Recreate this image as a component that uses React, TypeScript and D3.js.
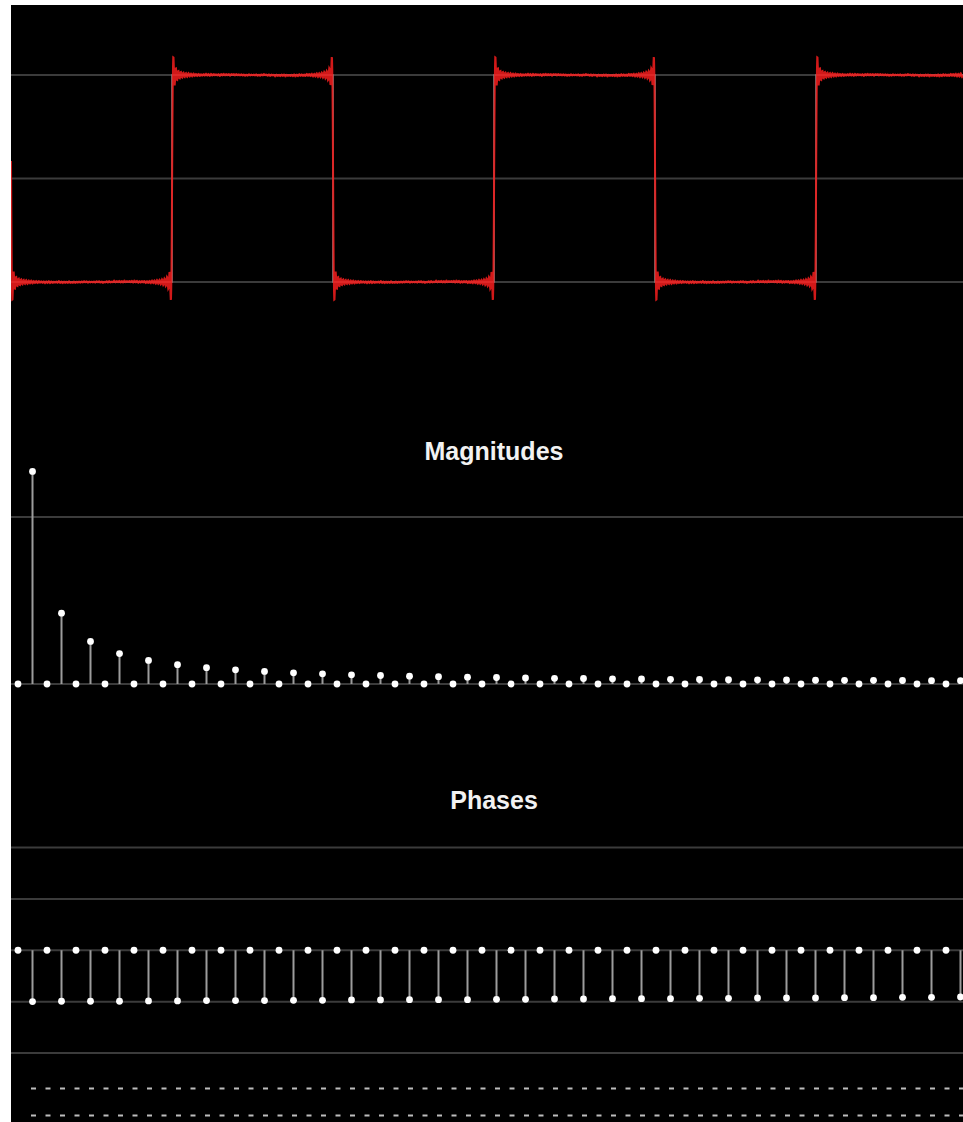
import { useEffect, useRef } from "react";
import * as d3 from "d3";

// harmonic magnitudes (index 0 = DC); the plot runs past the right edge
const magnitudes = [
  0, 1.273, 0, 0.424, 0, 0.255, 0, 0.182, 0, 0.141, 0, 0.116, 0, 0.098, 0, 0.085,
  0, 0.075, 0, 0.067, 0, 0.061, 0, 0.055, 0, 0.051, 0, 0.047, 0, 0.044, 0, 0.041,
  0, 0.039, 0, 0.036, 0, 0.034, 0, 0.033, 0, 0.031, 0, 0.03, 0, 0.028, 0, 0.027,
  0, 0.026, 0, 0.025, 0, 0.024, 0, 0.023, 0, 0.022, 0, 0.022, 0, 0.021, 0, 0.02,
  0, 0.02, 0, 0.019, 0, 0.018, 0, 0.018, 0, 0.017, 0, 0.017, 0, 0.017, 0, 0.016,
  0, 0.016, 0, 0.015, 0, 0.015, 0, 0.015, 0, 0.014, 0, 0.014, 0, 0.014, 0, 0.013,
  0, 0.013, 0, 0.013, 0, 0.013, 0, 0.012, 0, 0.012, 0, 0.012, 0, 0.012, 0, 0.011,
  0, 0.011, 0, 0.011, 0, 0.011, 0, 0.011, 0, 0.011, 0, 0.01, 0, 0.01, 0, 0.01,
];

// harmonic phases (radians)
const phases = [
  0, -1.57, 0, -1.56, 0, -1.56, 0, -1.56, 0, -1.55, 0, -1.55, 0, -1.54, 0, -1.54,
  0, -1.54, 0, -1.53, 0, -1.53, 0, -1.52, 0, -1.52, 0, -1.51, 0, -1.51, 0, -1.51,
  0, -1.5, 0, -1.5, 0, -1.49, 0, -1.49, 0, -1.48, 0, -1.48, 0, -1.48, 0, -1.47,
  0, -1.47, 0, -1.46, 0, -1.46, 0, -1.46, 0, -1.45, 0, -1.45, 0, -1.44, 0, -1.44,
  0, -1.43, 0, -1.43, 0, -1.43, 0, -1.42, 0, -1.42, 0, -1.41, 0, -1.41, 0, -1.4,
  0, -1.4, 0, -1.4, 0, -1.39, 0, -1.39, 0, -1.38, 0, -1.38, 0, -1.38, 0, -1.37,
  0, -1.37, 0, -1.36, 0, -1.36, 0, -1.35, 0, -1.35, 0, -1.35, 0, -1.34, 0, -1.34,
  0, -1.33, 0, -1.33, 0, -1.33, 0, -1.32, 0, -1.32, 0, -1.31, 0, -1.31, 0, -1.3,
];

// input square wave, one level per half period
const squareLevels = [-1, 1, -1, 1, -1, 1, -1];

const signalTicks = [-1, 0, 1];
const magnitudeTicks = [0, 1];
const phaseTicks = [-Math.PI, -Math.PI / 2, 0, Math.PI / 2, Math.PI];
const dashRows = [0, 1];

const width = 952;
const height = 1117;

export default function App() {
  const ref = useRef<SVGSVGElement | null>(null);

  useEffect(() => {
    if (!ref.current) return;
    const svg = d3.select(ref.current);
    svg.selectAll("*").remove();

    const idx = d3.range(magnitudes.length);

    // scales
    const tScale = d3.scaleLinear([0, 1], [0, 322]); // periods -> px
    const sigY = d3.scaleLinear([-1, 1], [277, 70]);
    const kScale = d3.scaleLinear([0, 65], [7, 949.5]);
    const magY = d3.scaleLinear([0, 1], [679, 512]);
    const phY = d3.scaleLinear([-Math.PI, Math.PI], [1048, 842.5]);

    svg
      .append("rect")
      .attr("width", width)
      .attr("height", height)
      .attr("fill", "#000");

    const grid = "#3b3b3b";

    //grid lines
    svg
      .selectAll(".sgrid")
      .data(signalTicks)
      .enter()
      .append("line")
      .attr("x1", 0)
      .attr("x2", width)
      .attr("y1", (d) => sigY(d))
      .attr("y2", (d) => sigY(d))
      .attr("stroke", grid)
      .attr("stroke-width", 2);

    svg
      .selectAll(".mgrid")
      .data(magnitudeTicks)
      .enter()
      .append("line")
      .attr("x1", 0)
      .attr("x2", width)
      .attr("y1", (d) => magY(d))
      .attr("y2", (d) => magY(d))
      .attr("stroke", grid)
      .attr("stroke-width", 2);

    svg
      .selectAll(".pgrid")
      .data(phaseTicks)
      .enter()
      .append("line")
      .attr("x1", 0)
      .attr("x2", width)
      .attr("y1", (d) => phY(d))
      .attr("y2", (d) => phY(d))
      .attr("stroke", grid)
      .attr("stroke-width", 2);

    // square wave input
    const sq = squareLevels.map((v, i) => ({ t: i / 2, v }));
    sq.push({ t: squareLevels.length / 2, v: squareLevels[squareLevels.length - 1] });
    svg
      .append("path")
      .attr(
        "d",
        d3
          .line<{ t: number; v: number }>()
          .x((d) => tScale(d.t))
          .y((d) => sigY(d.v))
          .curve(d3.curveStepAfter)(sq)
      )
      .attr("fill", "none")
      .attr("stroke", "#8a8a8a")
      .attr("stroke-width", 1.5);

    // fourier reconstruction
    const ts = d3.range(0, tScale.invert(width), 0.25 / 322);
    const pts = ts.map((t) => {
      let v = 0;
      for (let k = 1; k < magnitudes.length; k++) {
        if (!magnitudes[k]) continue;
        v += magnitudes[k] * Math.cos(2 * Math.PI * k * t - phases[k]);
      }
      return [tScale(t), sigY(v)] as [number, number];
    });
    svg
      .append("path")
      .attr("d", d3.line()(pts))
      .attr("fill", "none")
      .attr("stroke", "#ee1c1c")
      .attr("stroke-opacity", 0.88)
      .attr("stroke-width", 2);

    // titles
    const title = (txt: string, y: number) =>
      svg
        .append("text")
        .attr("x", 483)
        .attr("y", y)
        .attr("text-anchor", "middle")
        .attr("fill", "#f2f2f2")
        .attr("font-family", "'Liberation Sans', Arial, Helvetica, sans-serif")
        .attr("font-weight", "bold")
        .attr("font-size", 25)
        .text(txt);
    title("Magnitudes", 455);
    title("Phases", 803.5);

    // magnitude stems
    svg
      .selectAll(".mstem")
      .data(idx)
      .enter()
      .append("line")
      .attr("x1", (d) => kScale(d))
      .attr("x2", (d) => kScale(d))
      .attr("y1", magY(0))
      .attr("y2", (d) => magY(magnitudes[d]))
      .attr("stroke", "#9c9c9c")
      .attr("stroke-width", 2);
    svg
      .selectAll(".mdot")
      .data(idx)
      .enter()
      .append("circle")
      .attr("cx", (d) => kScale(d))
      .attr("cy", (d) => magY(magnitudes[d]))
      .attr("r", 3.4)
      .attr("fill", "#fff");

    // phase stems
    svg
      .selectAll(".pstem")
      .data(idx)
      .enter()
      .append("line")
      .attr("x1", (d) => kScale(d))
      .attr("x2", (d) => kScale(d))
      .attr("y1", phY(0))
      .attr("y2", (d) => phY(phases[d]))
      .attr("stroke", "#9c9c9c")
      .attr("stroke-width", 2);
    svg
      .selectAll(".pdot")
      .data(idx)
      .enter()
      .append("circle")
      .attr("cx", (d) => kScale(d))
      .attr("cy", (d) => phY(phases[d]))
      .attr("r", 3.4)
      .attr("fill", "#fff");

    // dashes of the plot below
    dashRows.forEach((row) => {
      svg
        .selectAll(".dash" + row)
        .data(idx.slice(1))
        .enter()
        .append("rect")
        .attr("x", (d) => kScale(d) - 1.5)
        .attr("y", 1082.5 + row * 27)
        .attr("width", 5)
        .attr("height", 2)
        .attr("fill", "#bdbdbd");
    });
  }, []);

  return (
    <svg
      ref={ref}
      width={width}
      height={height}
      style={{ position: "absolute", left: 11, top: 5, display: "block" }}
    />
  );
}
